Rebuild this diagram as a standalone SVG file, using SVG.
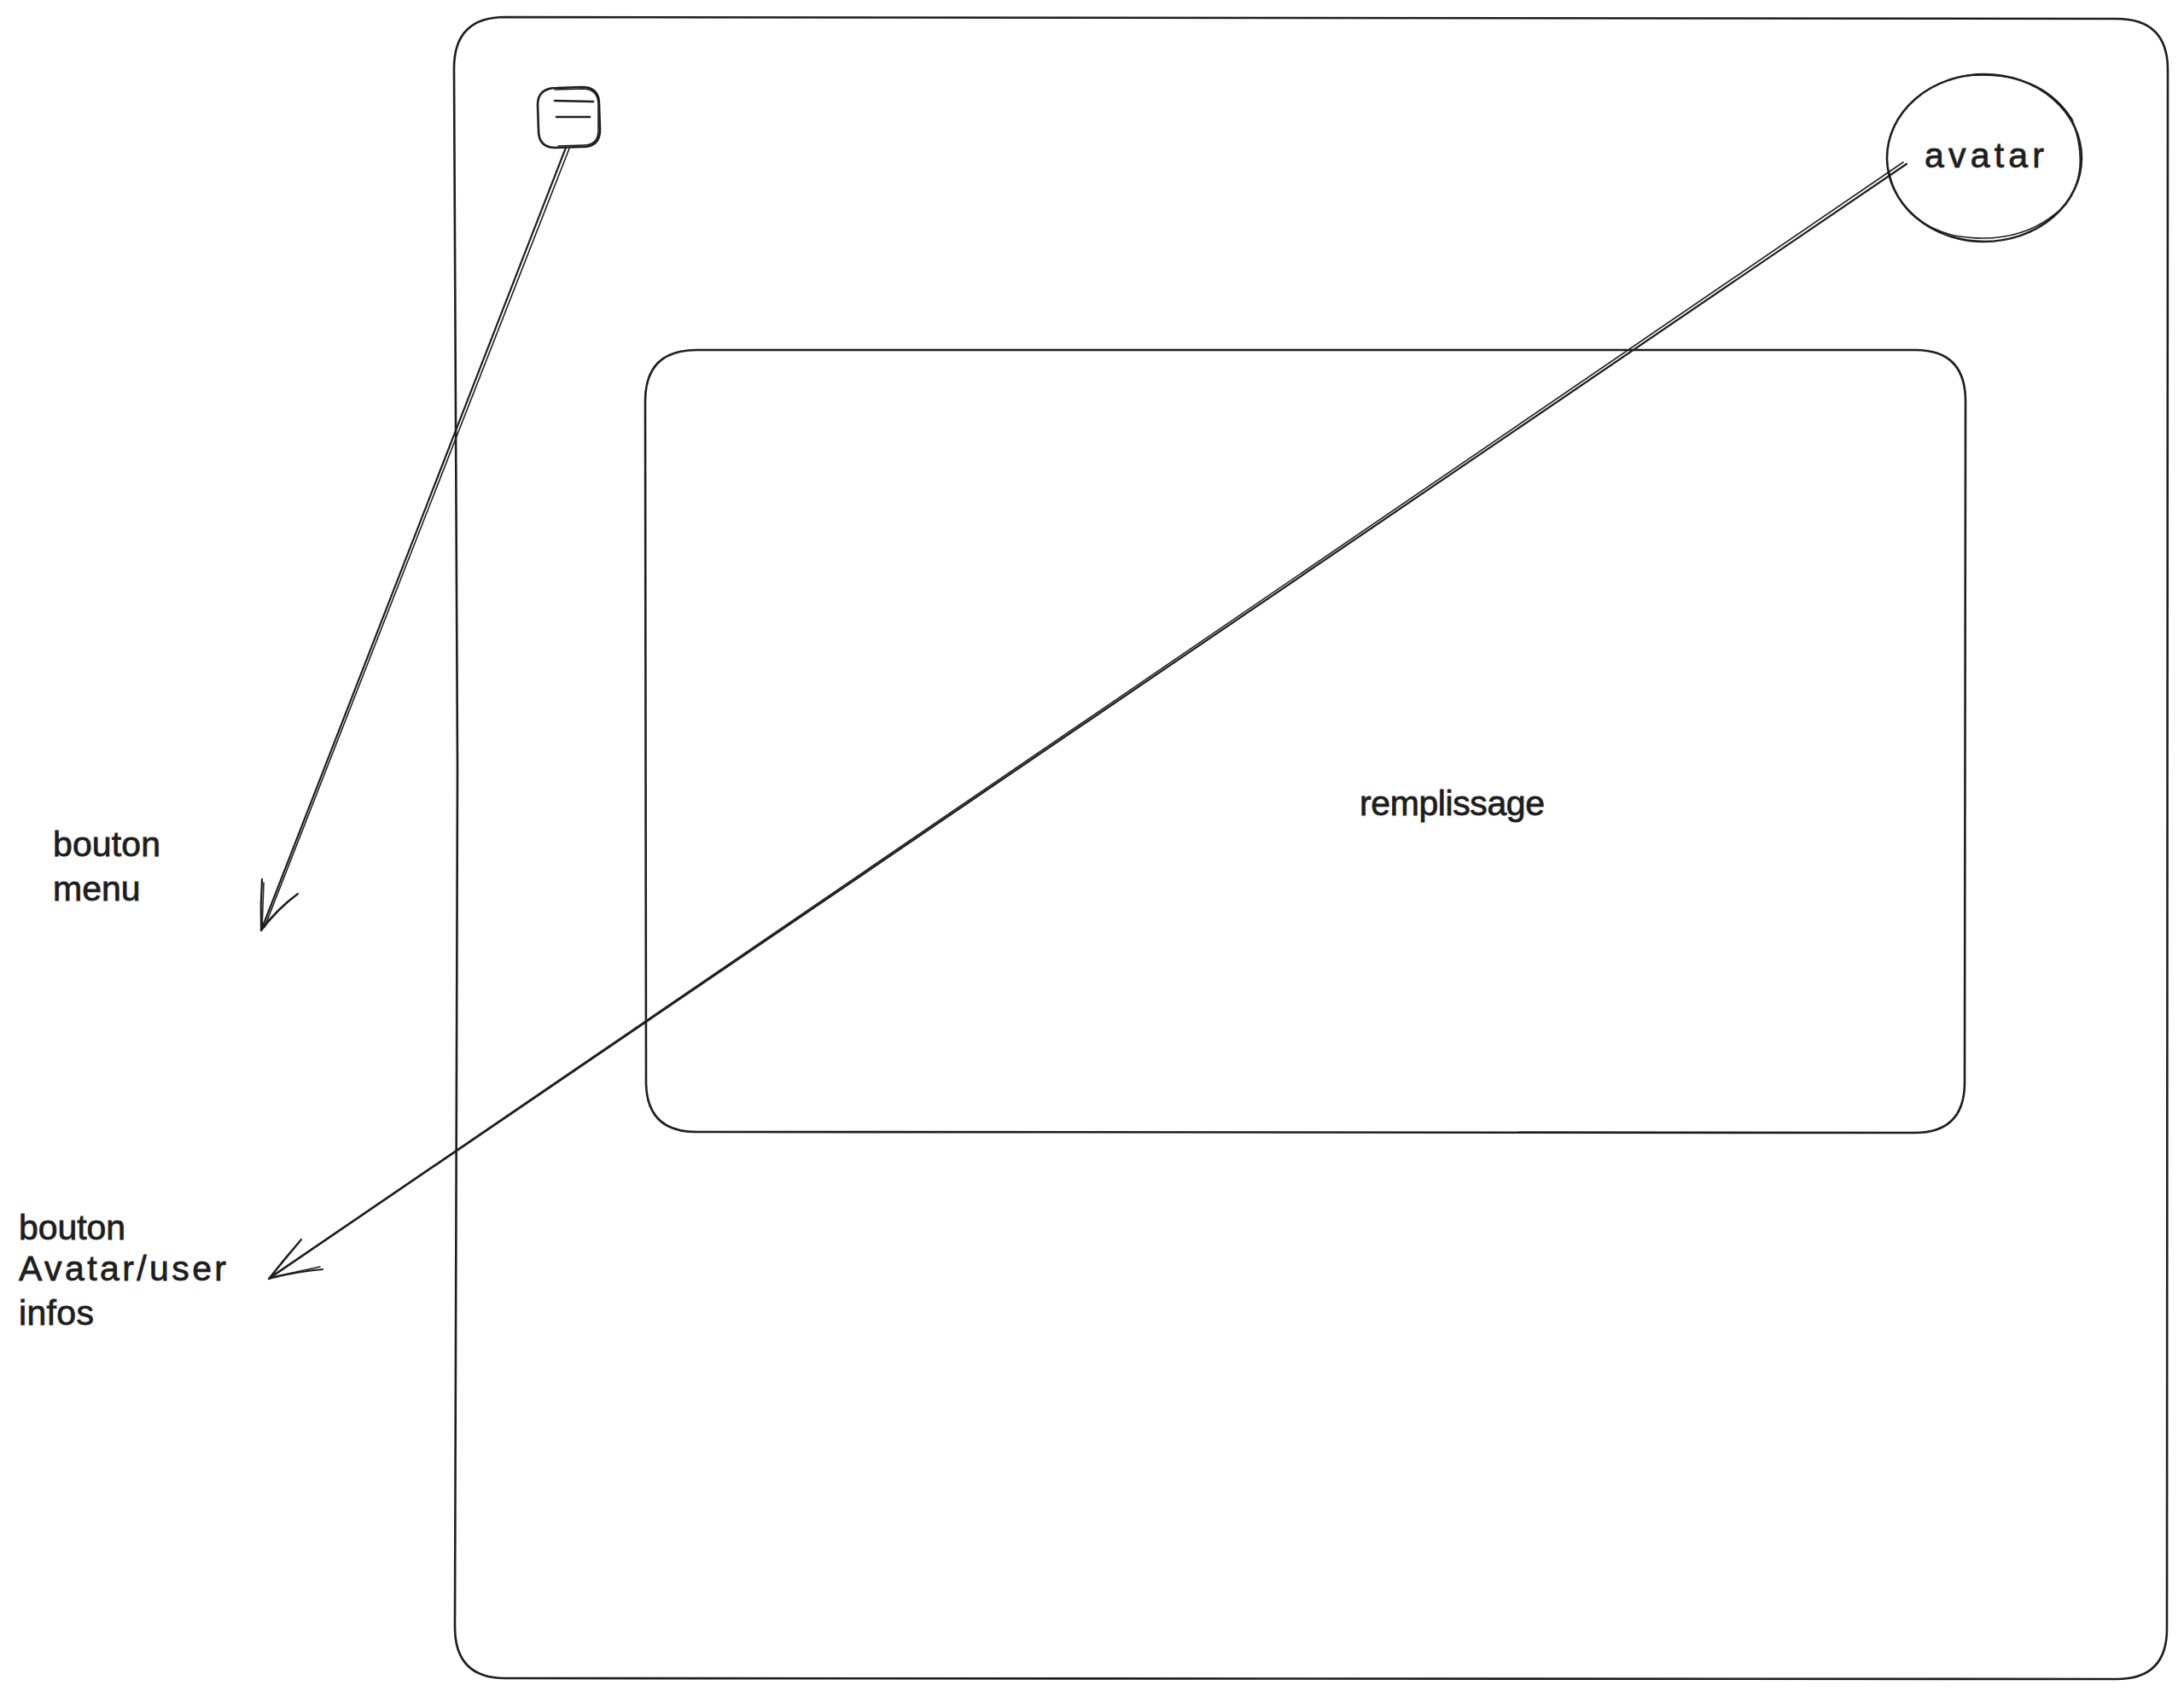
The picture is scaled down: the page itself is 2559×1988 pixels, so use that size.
<svg xmlns="http://www.w3.org/2000/svg" width="2559" height="1988" viewBox="0 0 2559 1988">
<style>
.sk{fill:none;stroke:#1e1e1e;stroke-width:2.6;stroke-linecap:round;stroke-linejoin:round}
.sk2{fill:none;stroke:#1e1e1e;stroke-width:1.6;stroke-linecap:round;stroke-linejoin:round}
.ar{fill:none;stroke:#1e1e1e;stroke-width:2.2;stroke-linecap:round;stroke-linejoin:round}
.t{font-family:"Liberation Sans","DejaVu Sans",sans-serif;font-size:41px;fill:#1e1e1e;stroke:#1e1e1e;stroke-width:0.8}
</style>
<rect width="2559" height="1988" fill="#ffffff"/>
<g id="frame">
  <path class="sk" d="M592 20 L2480 22 Q2540 22 2540 82 L2539 1908 Q2539 1967 2480 1967 L592 1966 Q533 1966 533 1906 L536 900 L532 80 Q532 20 592 20 Z"/>
</g>
<g id="content">
  <path class="sk" d="M816 410 L2244 410 Q2303 410 2303 470 L2302 1268 Q2302 1327 2243 1327 L816 1326 Q757 1326 757 1267 L756 470 Q756 410 816 410 Z"/>
  <text class="t" x="1593" y="955" textLength="217">remplissage</text>
</g>
<g id="menu-button">
  <path class="sk" d="M652 103 L682 102 Q702 102 702 122 L703 152 Q703 172 683 172 L651 173 Q631 173 631 153 L630 123 Q630 103 652 103 Z"/>
  <path class="sk2" d="M654 171 L684 170 Q700 170 701 154 L701 121 Q700 105 684 104 L650 105"/>
  <path class="sk" d="M650 118 L695 119"/>
  <path class="sk" d="M652 137 L691 137"/>
</g>
<g id="avatar">
  <ellipse class="sk" cx="2325" cy="185" rx="114" ry="98"/>
  <path class="sk2" d="M2300 89 Q2390 80 2428 140 Q2450 200 2420 240 Q2370 290 2290 276 Q2225 260 2213 200"/>
  <text class="t" x="2255" y="196" font-size="46" textLength="140">avatar</text>
</g>
<g id="label-menu">
  <text class="t" x="62" y="1003" textLength="126">bouton</text>
  <text class="t" x="62" y="1055">menu</text>
</g>
<g id="label-avatar">
  <text class="t" x="22" y="1452" textLength="125">bouton</text>
  <text class="t" x="22" y="1500" textLength="243">Avatar/user</text>
  <text class="t" x="22" y="1552" textLength="88">infos</text>
</g>
<g id="connectors">
  <path class="ar" d="M663 173 L306 1090"/>
  <path class="sk2" d="M667 174 L310 1086"/>
  <path class="ar" d="M307 1030 Q305 1060 306 1090 Q325 1065 349 1047"/>
  <path class="sk2" d="M309 1034 L307 1088 M345 1050 Q328 1062 308 1086"/>
  <path class="ar" d="M2234 192 L315 1498"/>
  <path class="sk2" d="M2230 190 L320 1494"/>
  <path class="ar" d="M353 1452 Q333 1475 315 1498 Q345 1490 378 1487"/>
  <path class="sk2" d="M350 1456 L317 1496 M375 1484 L319 1496"/>
</g>
</svg>
